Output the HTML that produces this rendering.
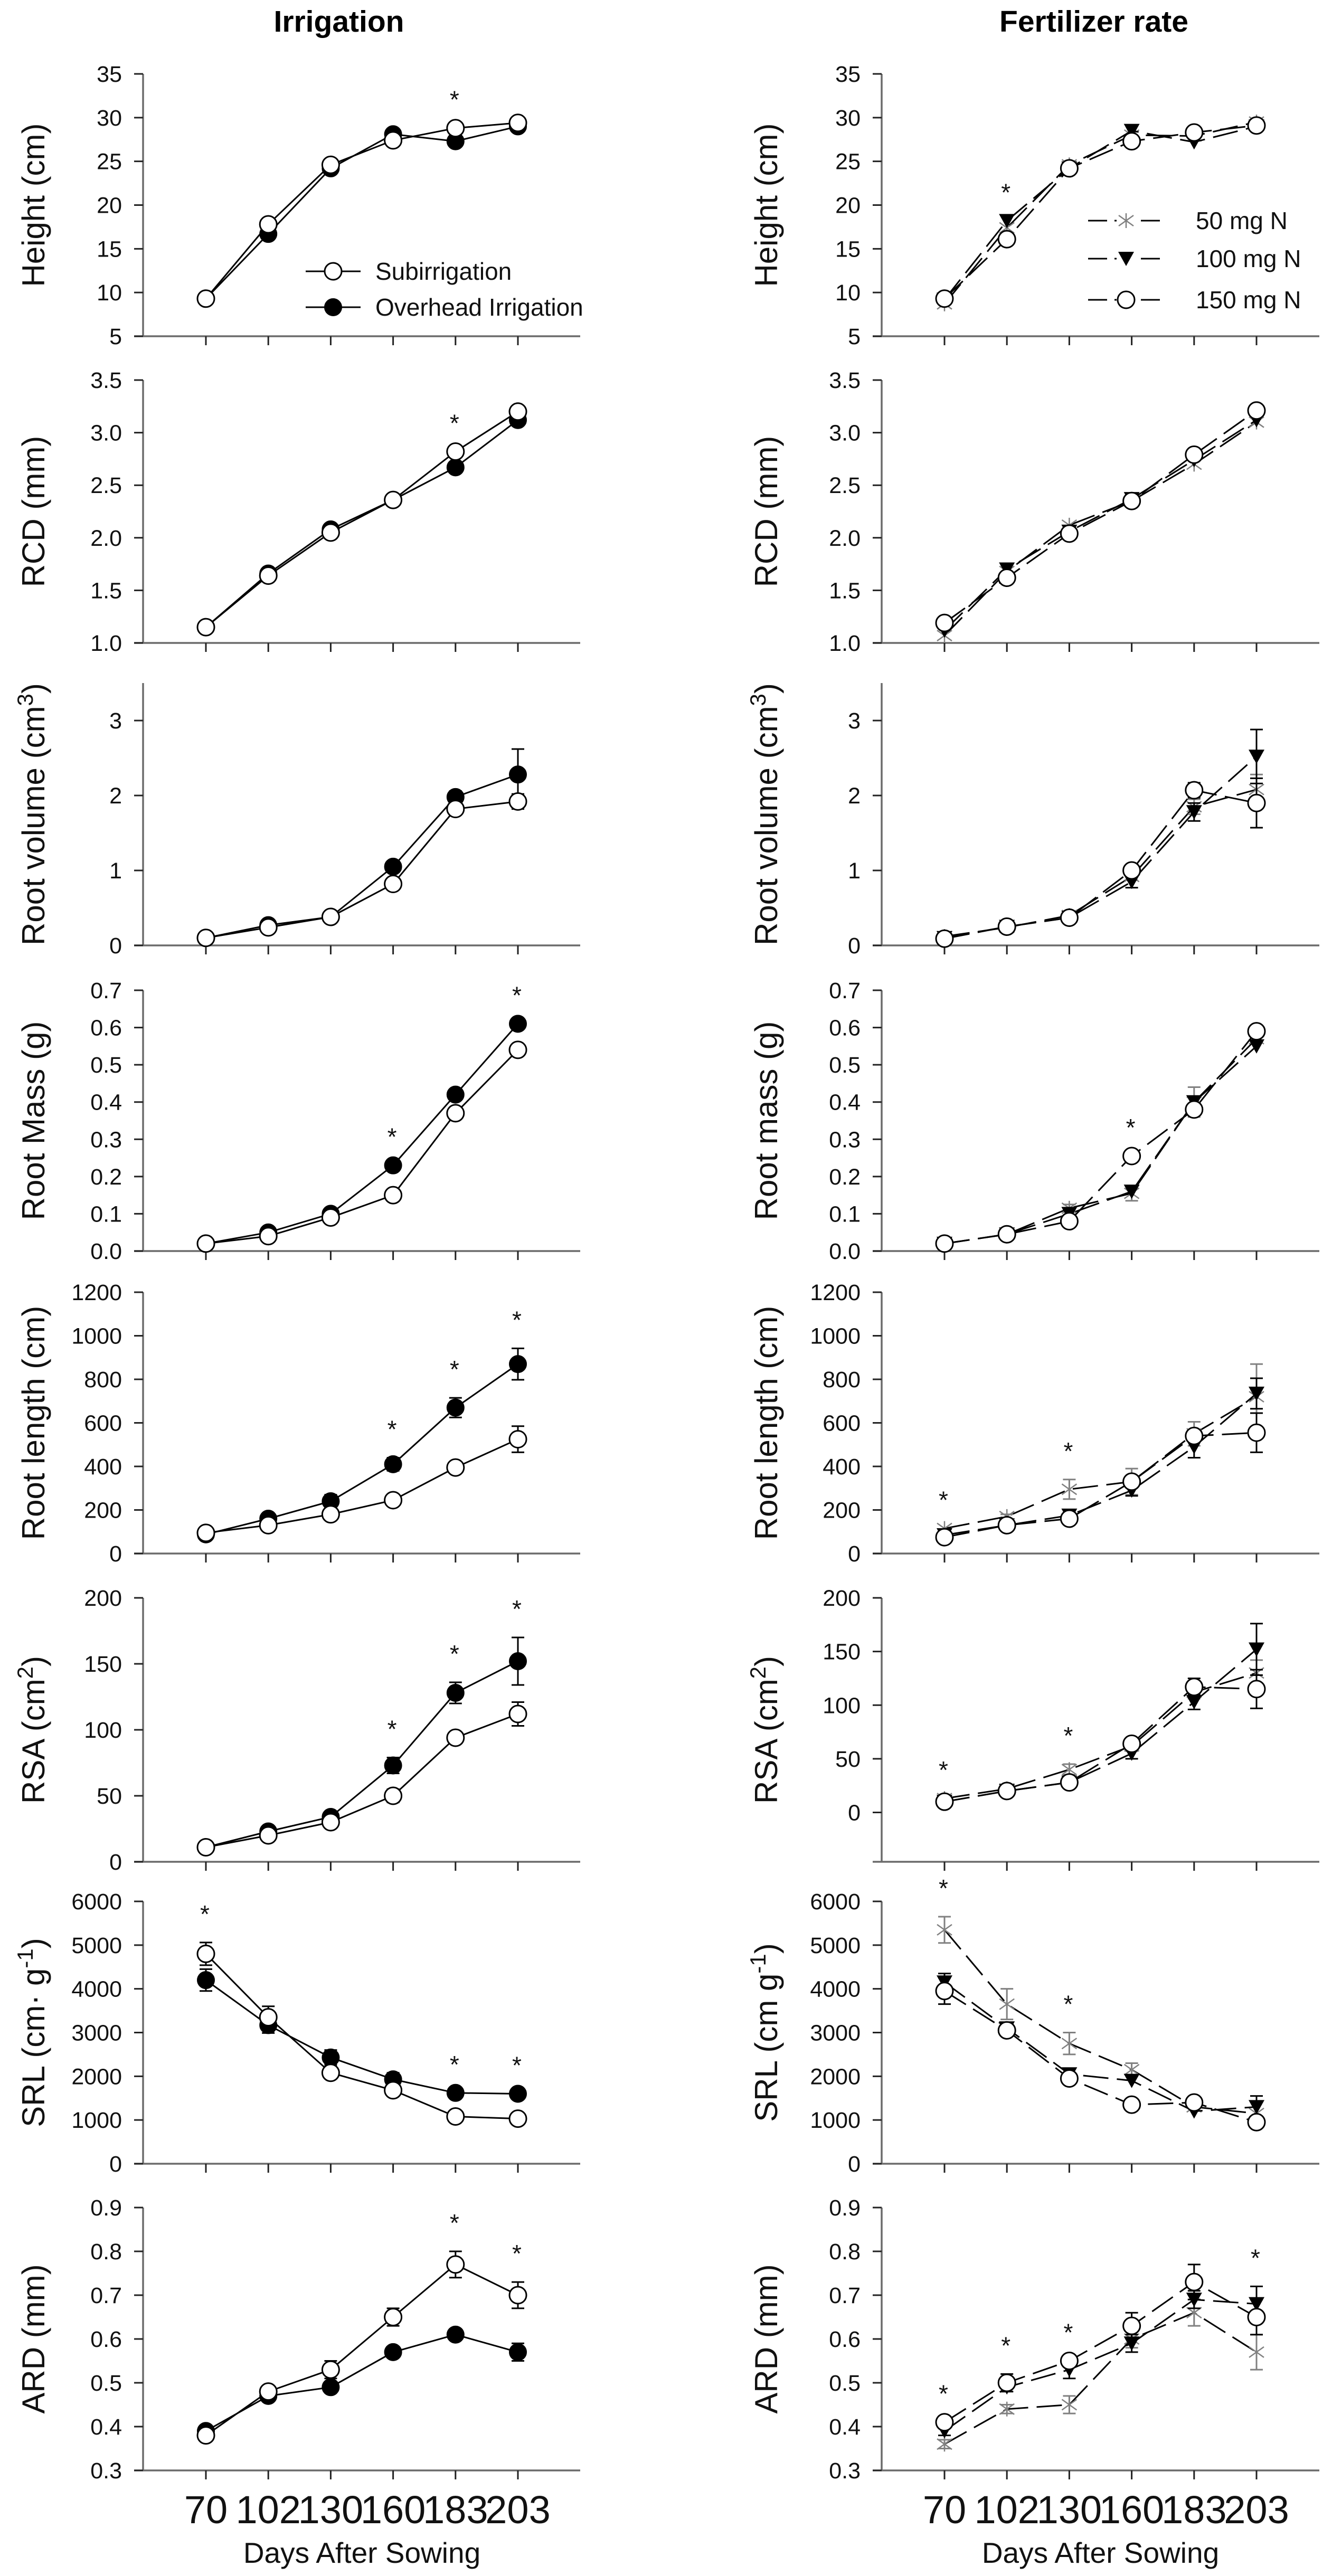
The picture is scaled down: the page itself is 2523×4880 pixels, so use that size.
<!DOCTYPE html>
<html><head><meta charset="utf-8"><style>
html,body{margin:0;padding:0;background:#fff}
svg{display:block;font-family:"Liberation Sans",Arial,sans-serif}
</style></head><body>
<svg id="fig" width="2523" height="4880" viewBox="0 0 2523 4880" xmlns="http://www.w3.org/2000/svg">
<rect width="2523" height="4880" fill="#fff"/>
<text x="642" y="60" font-size="57" font-weight="bold" text-anchor="middle">Irrigation</text>
<text x="2072" y="60" font-size="57" font-weight="bold" text-anchor="middle">Fertilizer rate</text>
</svg>
<script>
const days=[70,102,130,160,183,203];
// Irrigation (left) data: sub = subirrigation (open), over = overhead (filled)
const heightSub=[9.3,17.8,24.6,27.4,28.8,29.4];
const heightOver=[9.3,16.7,24.2,28.1,27.3,29.0];
const rcdSub=[1.15,1.64,2.05,2.36,2.82,3.20];
const rcdOver=[1.15,1.66,2.08,2.36,2.67,3.12];
const volSub=[0.10,0.24,0.38,0.82,1.82,1.92];
const volOver=[0.10,0.27,0.38,1.05,1.98,2.28];
const volSubErr=[0,0,0,0,0.05,0.1];
const volOverErr=[0,0,0,0,0.08,0.34];
const massSub=[0.02,0.04,0.09,0.15,0.37,0.54];
const massOver=[0.02,0.05,0.10,0.23,0.42,0.61];
const rlSub=[95,130,180,245,395,525];
const rlOver=[88,160,240,410,670,870];
const rlSubErr=[0,0,0,0,15,60];
const rlOverErr=[0,0,30,30,45,72];
const rsaSub=[11,20,30,50,94,112];
const rsaOver=[11,23,34,73,128,152];
const rsaSubErr=[0,0,0,5,4,9];
const rsaOverErr=[0,0,0,6,8,18];
const srlSub=[4800,3350,2080,1680,1080,1030];
const srlOver=[4200,3170,2430,1930,1620,1600];
const srlSubErr=[260,250,0,0,0,0];
const srlOverErr=[250,180,170,150,0,0];
const ardSub=[0.38,0.48,0.53,0.65,0.77,0.70];
const ardOver=[0.39,0.47,0.49,0.57,0.61,0.57];
const ardSubErr=[0,0,0.02,0.02,0.03,0.03];
const ardOverErr=[0,0,0,0,0,0.02];
// Fertilizer (right) data: n50 (x), n100 (triangle), n150 (open circle)
const heightN50=[8.7,17.4,24.6,28.0,27.9,29.5];
const heightN100=[9.2,18.2,24.2,28.5,27.2,29.0];
const heightN150=[9.3,16.1,24.2,27.3,28.3,29.1];
const rcdN50=[1.07,1.68,2.12,2.35,2.70,3.10];
const rcdN100=[1.12,1.70,2.06,2.37,2.74,3.12];
const rcdN150=[1.19,1.62,2.04,2.35,2.79,3.21];
const volN50=[0.12,0.24,0.40,0.92,1.85,2.08];
const volN100=[0.10,0.25,0.37,0.85,1.78,2.52];
const volN150=[0.09,0.25,0.37,1.00,2.07,1.90];
const volN50Err=[0,0,0,0.05,0.1,0.2];
const volN100Err=[0,0,0,0.08,0.12,0.36];
const volN150Err=[0,0,0,0,0.1,0.33];
const massN50=[0.02,0.045,0.115,0.155,0.40,0.57];
const massN100=[0.02,0.045,0.10,0.16,0.40,0.55];
const massN150=[0.02,0.045,0.08,0.255,0.38,0.59];
const massN50Err=[0,0,0.01,0.02,0.04,0];
const rlN50=[115,170,295,330,550,720];
const rlN100=[85,130,175,290,490,735];
const rlN150=[75,130,160,330,540,555];
const rlN50Err=[0,10,45,60,55,150];
const rlN100Err=[0,0,10,25,50,70];
const rlN150Err=[0,0,0,0,0,90];
const rsaN50=[13,22,40,62,112,130];
const rsaN100=[10,20,28,55,103,152];
const rsaN150=[10,20,28,64,117,115];
const rsaN50Err=[0,0,5,5,6,12];
const rsaN100Err=[0,0,0,5,7,24];
const rsaN150Err=[0,0,0,0,8,18];
const srlN50=[5350,3650,2750,2150,1300,1150];
const srlN100=[4150,3100,2050,1900,1200,1300];
const srlN150=[3950,3050,1950,1350,1400,950];
const srlN50Err=[300,350,250,150,0,0];
const srlN100Err=[200,0,0,0,0,250];
const srlN150Err=[300,0,0,0,0,0];
const ardN50=[0.36,0.44,0.45,0.60,0.66,0.57];
const ardN100=[0.39,0.49,0.53,0.59,0.69,0.68];
const ardN150=[0.41,0.50,0.55,0.63,0.73,0.65];
const ardN50Err=[0.01,0.01,0.02,0.02,0.03,0.04];
const ardN100Err=[0.01,0.01,0.02,0.02,0.02,0.04];
const ardN150Err=[0,0.02,0,0.03,0.04,0.04];
// significance stars (index of day)
const starsLeft=[[4],[4],[],[3,5],[3,4,5],[3,4,5],[0,4,5],[4,5]];
const starsRight=[[1],[],[],[3],[0,2],[0,2],[0,2],[0,1,2,5]];
// y axis tick labels
const tickHeight=["5","10","15","20","25","30","35"];
const tickRcd=["1.0","1.5","2.0","2.5","3.0","3.5"];
const tickVol=["0","1","2","3"];
const tickMass=["0.0","0.1","0.2","0.3","0.4","0.5","0.6","0.7"];
const tickRl=["0","200","400","600","800","1000","1200"];
const tickRsa=["0","50","100","150","200"];
const tickSrl=["0","1000","2000","3000","4000","5000","6000"];
const tickArd=["0.3","0.4","0.5","0.6","0.7","0.8","0.9"];

const NS="http://www.w3.org/2000/svg";
const svg=document.getElementById('fig');
function mk(tag,attrs,parent){const e=document.createElementNS(NS,tag);for(const k in attrs)e.setAttribute(k,attrs[k]);(parent||svg).appendChild(e);return e;}

const tops=[140,720,1294,1876,2448,3027,3602,4182];
const bots=[637,1218,1791,2370,2943,3527,4099,4680];
const panels=[
 {key:'height',ticks:tickHeight,min:5,max:35,lt:['Height (cm)'],rt:['Height (cm)']},
 {key:'rcd',ticks:tickRcd,min:1,max:3.5,lt:['RCD (mm)'],rt:['RCD (mm)']},
 {key:'vol',ticks:tickVol,min:0,max:3.5,lt:['Root volume (cm','3',')'],rt:['Root volume (cm','3',')']},
 {key:'mass',ticks:tickMass,min:0,max:0.7,lt:['Root Mass (g)'],rt:['Root mass (g)']},
 {key:'rl',ticks:tickRl,min:0,max:1200,lt:['Root length (cm)'],rt:['Root length (cm)']},
 {key:'rsa',ticks:tickRsa,min:0,max:200,rmin:-46,lt:['RSA (cm','2',')'],rt:['RSA (cm','2',')']},
 {key:'srl',ticks:tickSrl,min:0,max:6000,lt:['SRL  (cm\u00b7  g','-1',')'],rt:['SRL (cm g','-1',')']},
 {key:'ard',ticks:tickArd,min:0.3,max:0.9,lt:['ARD  (mm)'],rt:['ARD  (mm)']}
];
const D={height:{sub:heightSub,over:heightOver,n50:heightN50,n100:heightN100,n150:heightN150},
 rcd:{sub:rcdSub,over:rcdOver,n50:rcdN50,n100:rcdN100,n150:rcdN150},
 vol:{sub:volSub,over:volOver,subE:volSubErr,overE:volOverErr,n50:volN50,n100:volN100,n150:volN150,n50E:volN50Err,n100E:volN100Err,n150E:volN150Err},
 mass:{sub:massSub,over:massOver,n50:massN50,n100:massN100,n150:massN150,n50E:massN50Err},
 rl:{sub:rlSub,over:rlOver,subE:rlSubErr,overE:rlOverErr,n50:rlN50,n100:rlN100,n150:rlN150,n50E:rlN50Err,n100E:rlN100Err,n150E:rlN150Err},
 rsa:{sub:rsaSub,over:rsaOver,subE:rsaSubErr,overE:rsaOverErr,n50:rsaN50,n100:rsaN100,n150:rsaN150,n50E:rsaN50Err,n100E:rsaN100Err,n150E:rsaN150Err},
 srl:{sub:srlSub,over:srlOver,subE:srlSubErr,overE:srlOverErr,n50:srlN50,n100:srlN100,n150:srlN150,n50E:srlN50Err,n100E:srlN100Err,n150E:srlN150Err},
 ard:{sub:ardSub,over:ardOver,subE:ardSubErr,overE:ardOverErr,n50:ardN50,n100:ardN100,n150:ardN150,n50E:ardN50Err,n100E:ardN100Err,n150E:ardN150Err}};

const cols=[{x0:271,x1:1099,first:390,titleX:84,side:'left'},{x0:1670,x1:2499,first:1789,titleX:1472,side:'right'}];
const step=118.2;

function drawMarker(g,type,x,y){
 if(type==='open'){const c=mk('circle',{cx:x,cy:y,r:16,fill:'#fff',stroke:'#000','stroke-width':3},g);}
 else if(type==='filled'){const c=mk('circle',{cx:x,cy:y,r:16,fill:'#000',stroke:'#000','stroke-width':2},g);}
 else if(type==='tri'){const p=mk('polygon',{points:(x-15)+','+(y-13)+' '+(x+15)+','+(y-13)+' '+x+','+(y+14),fill:'#000'},g);}
 else {const p=mk('path',{d:'M'+(x-14)+' '+(y-10)+'L'+(x+14)+' '+(y+10)+'M'+(x-14)+' '+(y+10)+'L'+(x+14)+' '+(y-10)+'M'+x+' '+(y-14)+'L'+x+' '+(y+14),stroke:'#808080','stroke-width':2.5,fill:'none'},g);}
}

panels.forEach((P,pi)=>{
 const top=tops[pi],bot=bots[pi];
 cols.forEach((C,ci)=>{
  const min=(ci===1&&P.rmin!==undefined)?P.rmin:P.min;
  const ys=v=>bot-(v-min)/(P.max-min)*(bot-top);
  const xs=i=>C.first+i*step;
  const g=mk('g',{});
  
  
  const ya=mk('line',{x1:C.x0,y1:top,x2:C.x0,y2:bot,stroke:'#6b6b6b','stroke-width':3.5},g);
  
  
  const xa=mk('line',{x1:C.x0-17,y1:bot,x2:C.x1,y2:bot,stroke:'#6b6b6b','stroke-width':3.5},g);
  
  
  P.ticks.forEach((t)=>{
   const val=parseFloat(t);
   const y=ys(val);
   mk('line',{x1:C.x0-17,y1:y,x2:C.x0,y2:y,stroke:'#222','stroke-width':3},g);
   const tl=mk('text',{x:C.x0-40,y:y+15,'font-size':43,'text-anchor':'end',fill:'#111'},g);
   tl.textContent=t;
   
   
  });
  days.forEach((d,i)=>{mk('line',{x1:xs(i),y1:bot,x2:xs(i),y2:bot+17,stroke:'#222','stroke-width':3},g);});
  const lab=ci===0?P.lt:P.rt;
  const cy=(top+bot)/2;
  const tt=mk('text',{transform:'translate('+C.titleX+','+cy+') rotate(-90)','font-size':60,'text-anchor':'middle',fill:'#111'},g);
  
  
  lab.forEach((s,k)=>{const ts=mk('tspan',{},tt);if(k===1){ts.setAttribute('dy','-22');ts.setAttribute('font-size','42');}if(k===2){ts.setAttribute('dy','22');}ts.textContent=s;});
  const dd=D[P.key];
  const series=ci===0?[
    {v:dd.over,e:dd.overE,m:'filled',dash:null,name:'overhead-irrigation-series',ec:'#000'},
    {v:dd.sub,e:dd.subE,m:'open',dash:null,name:'subirrigation-series',ec:'#000'}]:[
    {v:dd.n50,e:dd.n50E,m:'x',dash:'48 16',name:'n50-series',ec:'#808080'},
    {v:dd.n100,e:dd.n100E,m:'tri',dash:'48 16',name:'n100-series',ec:'#000'},
    {v:dd.n150,e:dd.n150E,m:'open',dash:'48 16',name:'n150-series',ec:'#000'}];
  let topMost=days.map(()=>1e9);
  series.forEach(S=>{
   const sg=mk('g',{},g);
   
   
   const pts=S.v.map((v,i)=>xs(i)+','+ys(v)).join(' ');
   const pl=mk('polyline',{points:pts,fill:'none',stroke:'#000','stroke-width':3},sg);
   if(S.dash)pl.setAttribute('stroke-dasharray',S.dash);
   
   
   S.v.forEach((v,i)=>{
    const e=S.e?S.e[i]:0;
    if(e>0){
     const y1=ys(v+e),y2=ys(v-e),x=xs(i);
     const eb=mk('path',{d:'M'+x+' '+y1+'L'+x+' '+y2+'M'+(x-12)+' '+y1+'L'+(x+12)+' '+y1+'M'+(x-12)+' '+y2+'L'+(x+12)+' '+y2,stroke:S.ec,'stroke-width':3,fill:'none'},sg);
     
     
    }
    topMost[i]=Math.min(topMost[i],ys(v+e)-16);
   });
   S.v.forEach((v,i)=>drawMarker(sg,S.m,xs(i),ys(v)));
  });
  const st=ci===0?starsLeft[pi]:starsRight[pi];
  st.forEach(i=>{
   const s=mk('text',{x:xs(i)-2,y:topMost[i]-22,'font-size':46,'text-anchor':'middle',fill:'#111'},g);
   s.textContent='*';
   
   
  });
  if(pi===7){
   days.forEach((d,i)=>{
    const xl=mk('text',{x:xs(i),y:4780,'font-size':74,'text-anchor':'middle',fill:'#111'},g);
    xl.textContent=d;
    
    
   });
   const xt=mk('text',{x:(xs(0)+xs(5))/2,y:4855,'font-size':55,'text-anchor':'middle',fill:'#111'},g);
   xt.textContent='Days After Sowing';
   
   
  }
 });
});

const lg=mk('g',{});


[['open','Subirrigation',514],['filled','Overhead Irrigation',582]].forEach(r=>{
 mk('line',{x1:579,y1:r[2],x2:683,y2:r[2],stroke:'#000','stroke-width':3},lg);
 drawMarker(lg,r[0],631,r[2]);
 const t=mk('text',{x:711,y:r[2]+16,'font-size':46,fill:'#111'},lg);
 t.textContent=r[1];
 
 
});
const rg=mk('g',{});


[['x','50 mg N',418],['tri','100 mg N',490],['open','150 mg N',568]].forEach(r=>{
 mk('line',{x1:2061,y1:r[2],x2:2205,y2:r[2],stroke:'#000','stroke-width':3,'stroke-dasharray':'36 14'},rg);
 mk('rect',{x:2115,y:r[2]-18,width:36,height:36,fill:'#fff'},rg);
 drawMarker(rg,r[0],2133,r[2]);
 const t=mk('text',{x:2265,y:r[2]+16,'font-size':46,fill:'#111'},rg);
 t.textContent=r[1];
 
 
});
</script>
</body></html>
